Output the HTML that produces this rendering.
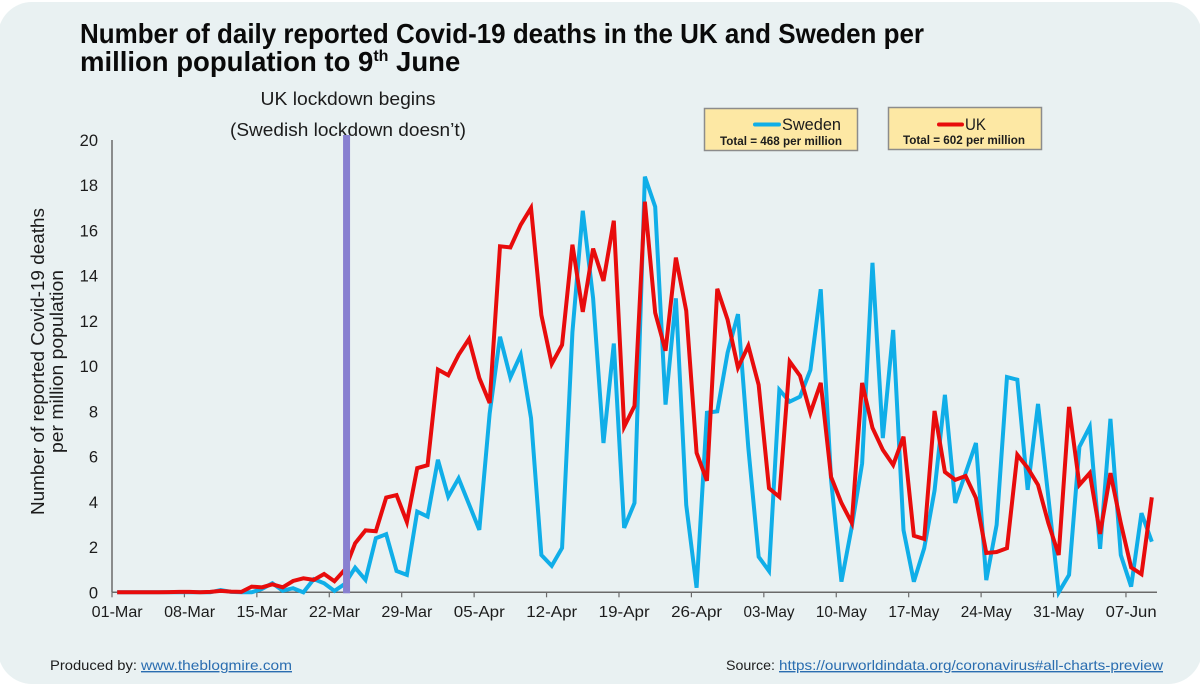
<!DOCTYPE html>
<html lang="en">
<head>
<meta charset="utf-8">
<title>Covid-19 deaths UK and Sweden</title>
<style>
html,body{margin:0;padding:0;background:#fff;}
#wrap{position:relative;width:1200px;height:684px;overflow:hidden;background:#fff;}
svg{display:block;font-family:"Liberation Sans",sans-serif;}
text{fill:#1c1c1c;}
</style>
</head>
<body>
<div id="wrap">
<svg id="chart" width="1200" height="684" viewBox="0 0 1200 684">
  <rect x="-2" y="2" width="1204" height="682" rx="34" ry="34" fill="#e9f1f2"/>
  <text x="80" y="43" font-size="27.5" font-weight="700" fill="#0a0a0a" style="fill:#0a0a0a" textLength="844" lengthAdjust="spacingAndGlyphs">Number of daily reported Covid-19 deaths in the UK and Sweden per</text>
  <text x="80" y="71" font-size="27.5" font-weight="700" style="fill:#0a0a0a">million population to 9<tspan font-size="16" dy="-10">th</tspan><tspan dy="10"> June</tspan></text>
  <text x="348" y="105" font-size="18.5" text-anchor="middle" textLength="175" lengthAdjust="spacingAndGlyphs">UK lockdown begins</text>
  <text x="348" y="136" font-size="18.5" text-anchor="middle" textLength="236" lengthAdjust="spacingAndGlyphs">(Swedish lockdown doesn’t)</text>

  <g transform="translate(43,361.5) rotate(-90)">
    <text x="0" y="1" font-size="18.5" text-anchor="middle" textLength="307" lengthAdjust="spacingAndGlyphs">Number of reported Covid-19 deaths</text>
    <text x="0" y="20" font-size="18.5" text-anchor="middle" textLength="183" lengthAdjust="spacingAndGlyphs">per million population</text>
  </g>

  <g id="axes"></g>
  <g id="marks"></g>

  <g>
    <rect x="704.5" y="108.5" width="153" height="42" fill="#fde8a4" stroke="#8c8c8c" stroke-width="1.5"/>
    <line x1="755" y1="124.5" x2="779" y2="124.5" stroke="#10aee8" stroke-width="4" stroke-linecap="round"/>
    <text x="782" y="130" font-size="17" textLength="59" lengthAdjust="spacingAndGlyphs">Sweden</text>
    <text x="781" y="145" font-size="11.5" font-weight="700" text-anchor="middle" textLength="122" lengthAdjust="spacingAndGlyphs">Total = 468 per million</text>
  </g>
  <g>
    <rect x="888.5" y="107.5" width="153" height="42" fill="#fde8a4" stroke="#8c8c8c" stroke-width="1.5"/>
    <line x1="939" y1="124.5" x2="962" y2="124.5" stroke="#e80c0c" stroke-width="4" stroke-linecap="round"/>
    <text x="965" y="130" font-size="17" textLength="21" lengthAdjust="spacingAndGlyphs">UK</text>
    <text x="964" y="144" font-size="11.5" font-weight="700" text-anchor="middle" textLength="122" lengthAdjust="spacingAndGlyphs">Total = 602 per million</text>
  </g>

  <text x="50" y="670" font-size="14" textLength="87" lengthAdjust="spacingAndGlyphs">Produced by:</text>
  <text x="141" y="670" font-size="14" style="fill:#2a6db0" text-decoration="underline" textLength="151" lengthAdjust="spacingAndGlyphs">www.theblogmire.com</text>
  <text x="726" y="670" font-size="14" textLength="49" lengthAdjust="spacingAndGlyphs">Source:</text>
  <text x="779" y="670" font-size="14" style="fill:#2a6db0" text-decoration="underline" textLength="384" lengthAdjust="spacingAndGlyphs">https://ourworldindata.org/coronavirus#all-charts-preview</text>
</svg>
</div>
<script>
var xTickLabels = ["01-Mar","08-Mar","15-Mar","22-Mar","29-Mar","05-Apr","12-Apr","19-Apr","26-Apr","03-May","10-May","17-May","24-May","31-May","07-Jun"];
var yTickValues = [0,2,4,6,8,10,12,14,16,18,20];
var sweden = [0,0,0,0,0,0,0,0,0,0,0.1,0.02,0,0,0.15,0.4,0.07,0.18,0,0.58,0.4,0.06,0.37,1.09,0.55,2.39,2.57,0.94,0.77,3.57,3.35,5.86,4.23,5.04,3.9,2.76,7.9,11.3,9.5,10.5,7.7,1.65,1.17,1.96,11.5,16.87,13.0,6.6,11.0,2.85,3.95,18.38,17.05,8.3,13.0,3.86,0.2,7.94,8.0,10.6,12.3,6.4,1.57,0.94,8.95,8.43,8.65,9.83,13.4,4.97,0.47,2.9,5.7,14.57,6.82,11.6,2.75,0.47,1.95,4.5,8.73,3.95,5.27,6.6,0.54,2.98,9.52,9.4,4.53,8.33,4.2,0,0.77,6.43,7.32,1.92,7.67,1.65,0.25,3.5,2.24];
var uk = [0,0,0,0,0,0.01,0.02,0.02,0,0.02,0.06,0.03,0.02,0.25,0.22,0.35,0.22,0.5,0.62,0.55,0.81,0.49,1.0,2.17,2.74,2.7,4.19,4.3,3.11,5.49,5.62,9.85,9.6,10.5,11.2,9.48,8.37,15.3,15.25,16.25,17.0,12.26,10.1,10.94,15.37,12.4,15.2,13.77,16.43,7.32,8.24,17.27,12.36,10.68,14.8,12.45,6.17,4.93,13.42,12.05,9.93,10.9,9.17,4.6,4.22,10.2,9.57,7.93,9.26,5.1,3.95,3.07,9.26,7.27,6.3,5.63,6.88,2.5,2.36,8.02,5.32,4.97,5.14,4.17,1.74,1.78,1.95,6.08,5.5,4.75,3.06,1.65,8.2,4.75,5.27,2.58,5.27,3.06,1.1,0.8,4.2];
var lockdownDay = 22.17;

var NS = "http://www.w3.org/2000/svg";
var plot = {left:112, right:1157, top:140, bottom:592.3, yMax:20, days:101};
function xBand(i){ return plot.left + i * (plot.right - plot.left) / plot.days; }
function xPoint(i){ return xBand(i + 0.5); }
function yScale(v){ return plot.bottom - (v / plot.yMax) * (plot.bottom - plot.top); }
function make(tag, attrs, parent){
  var el = document.createElementNS(NS, tag);
  for (var k in attrs) el.setAttribute(k, attrs[k]);
  parent.appendChild(el);
  return el;
}
var axes = document.getElementById("axes");
var marks = document.getElementById("marks");

var yAxis = make("line", {x1:plot.left, x2:plot.left, y1:plot.top, y2:plot.bottom, stroke:"#6a6a6a", "stroke-width":1.5}, axes);


var xAxis = make("line", {x1:plot.left, x2:plot.right, y1:plot.bottom, y2:plot.bottom, stroke:"#6a6a6a", "stroke-width":1.5}, axes);



yTickValues.forEach(function(v){
  var t = make("text", {x:98, y:yScale(v) + 6, "font-size":16.5, "text-anchor":"end"}, axes);
  t.textContent = String(v);
  
  
});
xTickLabels.forEach(function(label, n){
  var x = xBand(n * 7);
  var tick = make("line", {x1:x, x2:x, y1:plot.bottom, y2:plot.bottom + 5, stroke:"#6a6a6a", "stroke-width":1.2}, axes);
  
  
  var t = make("text", {x:xPoint(n * 7), y:617, "font-size":15.5, "text-anchor":"middle", textLength:51, lengthAdjust:"spacingAndGlyphs"}, axes);
  t.textContent = label;
  
  
});

function seriesPoints(values){
  return values.map(function(v, i){ return xPoint(i).toFixed(2) + "," + yScale(v).toFixed(2); }).join(" ");
}
var swedenLine = make("polyline", {points:seriesPoints(sweden), fill:"none", stroke:"#10aee8", "stroke-width":4, "stroke-linejoin":"miter", "stroke-miterlimit":4}, marks);


var ukLine = make("polyline", {points:seriesPoints(uk), fill:"none", stroke:"#e80c0c", "stroke-width":4, "stroke-linejoin":"miter", "stroke-miterlimit":4}, marks);


var lockdownBar = make("rect", {x:xPoint(lockdownDay) - 3.5, y:135, width:7, height:plot.bottom - 135 + 1, fill:"#8880d0"}, marks);


</script>
</body>
</html>
